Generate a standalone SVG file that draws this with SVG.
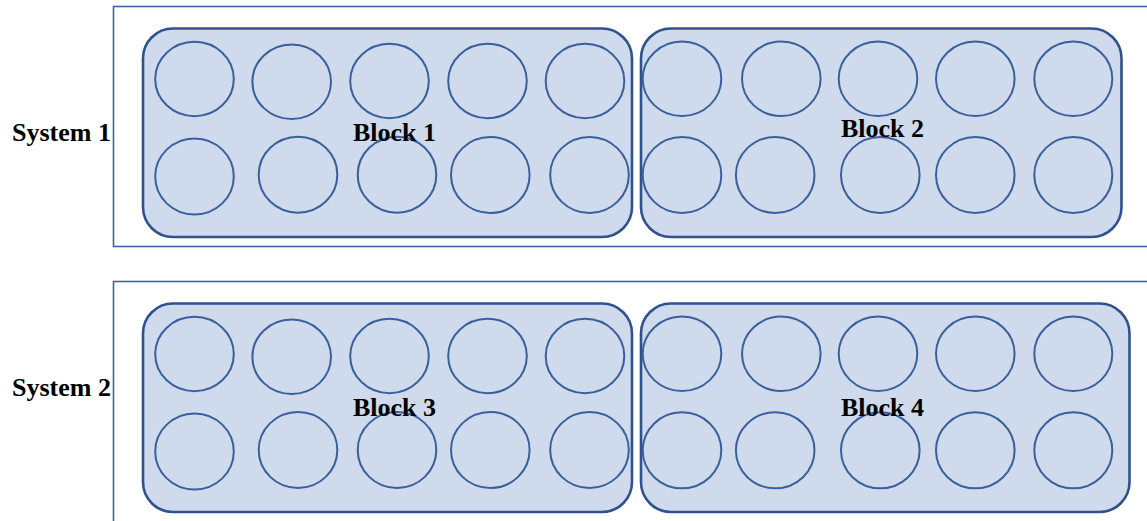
<svg xmlns="http://www.w3.org/2000/svg" width="1147" height="521" viewBox="0 0 1147 521">
<style>
.sys{fill:#ffffff;stroke:#3f62a0;stroke-width:1.6}
.blk{fill:#cfdbec;stroke:#2f528f;stroke-width:2.6}
.cell{fill:none;stroke:#3a5f9d;stroke-width:2}
.lbl{font-family:"Liberation Serif","Times New Roman",serif;font-weight:bold;font-size:26px;fill:#000}
</style>
<rect width="1147" height="521" fill="#ffffff"/>
<g id="system1">
<rect class="sys" x="113.5" y="6.5" width="1040" height="240"/>
<text class="lbl" x="12" y="141">System 1</text>
</g>
<g id="system2">
<rect class="sys" x="113.5" y="281.5" width="1040" height="250"/>
<text class="lbl" x="12" y="396">System 2</text>
</g>
<g id="block1">
<rect class="blk" x="143" y="28.5" width="489" height="208.5" rx="30"/>
<ellipse class="cell" cx="194.5" cy="79" rx="39.3" ry="37.2"/>
<ellipse class="cell" cx="291.7" cy="81.8" rx="39.3" ry="37.2"/>
<ellipse class="cell" cx="389.5" cy="81" rx="39.3" ry="37.2"/>
<ellipse class="cell" cx="487.5" cy="81" rx="39.3" ry="37.2"/>
<ellipse class="cell" cx="585" cy="81" rx="39.3" ry="37.2"/>
<ellipse class="cell" cx="194.5" cy="176.5" rx="39.3" ry="38"/>
<ellipse class="cell" cx="298" cy="174.7" rx="39.3" ry="38"/>
<ellipse class="cell" cx="397" cy="174.7" rx="39.3" ry="38"/>
<ellipse class="cell" cx="490.3" cy="175" rx="39.3" ry="38"/>
<ellipse class="cell" cx="589.5" cy="175" rx="39.3" ry="38"/>
<text class="lbl" x="353" y="141">Block 1</text>
</g>
<g id="block2">
<rect class="blk" x="641" y="28.5" width="480.5" height="208.5" rx="30"/>
<ellipse class="cell" cx="682" cy="78.8" rx="39.3" ry="37.2"/>
<ellipse class="cell" cx="781.3" cy="78.8" rx="39.3" ry="37.2"/>
<ellipse class="cell" cx="878" cy="78.8" rx="39.3" ry="37.2"/>
<ellipse class="cell" cx="975.3" cy="78.8" rx="39.3" ry="37.2"/>
<ellipse class="cell" cx="1073.3" cy="78.8" rx="39" ry="37.2"/>
<ellipse class="cell" cx="682" cy="175" rx="39.3" ry="38"/>
<ellipse class="cell" cx="775.2" cy="175" rx="39.3" ry="38"/>
<ellipse class="cell" cx="880.3" cy="175" rx="39.3" ry="38"/>
<ellipse class="cell" cx="975.3" cy="175" rx="39.3" ry="38"/>
<ellipse class="cell" cx="1073.3" cy="175" rx="39" ry="38"/>
<text class="lbl" x="841" y="137">Block 2</text>
</g>
<g id="block3">
<rect class="blk" x="143" y="303.5" width="489" height="208.5" rx="30"/>
<ellipse class="cell" cx="194.5" cy="354" rx="39.3" ry="37.2"/>
<ellipse class="cell" cx="291.7" cy="356.8" rx="39.3" ry="37.2"/>
<ellipse class="cell" cx="389.5" cy="356" rx="39.3" ry="37.2"/>
<ellipse class="cell" cx="487.5" cy="356" rx="39.3" ry="37.2"/>
<ellipse class="cell" cx="585" cy="356" rx="39.3" ry="37.2"/>
<ellipse class="cell" cx="194.5" cy="451.5" rx="39.3" ry="38"/>
<ellipse class="cell" cx="298" cy="450" rx="39.3" ry="38"/>
<ellipse class="cell" cx="397" cy="450" rx="39.3" ry="38"/>
<ellipse class="cell" cx="490.3" cy="450" rx="39.3" ry="38"/>
<ellipse class="cell" cx="589.5" cy="450" rx="39.3" ry="38"/>
<text class="lbl" x="353" y="416">Block 3</text>
</g>
<g id="block4">
<rect class="blk" x="641" y="303.5" width="488.5" height="208.5" rx="30"/>
<ellipse class="cell" cx="682" cy="353.8" rx="39.3" ry="37.2"/>
<ellipse class="cell" cx="781.3" cy="353.8" rx="39.3" ry="37.2"/>
<ellipse class="cell" cx="878" cy="353.8" rx="39.3" ry="37.2"/>
<ellipse class="cell" cx="975.3" cy="353.8" rx="39.3" ry="37.2"/>
<ellipse class="cell" cx="1073.3" cy="353.8" rx="39" ry="37.2"/>
<ellipse class="cell" cx="682" cy="450.3" rx="39.3" ry="38"/>
<ellipse class="cell" cx="775.2" cy="450.3" rx="39.3" ry="38"/>
<ellipse class="cell" cx="880.3" cy="450.3" rx="39.3" ry="38"/>
<ellipse class="cell" cx="975.3" cy="450.3" rx="39.3" ry="38"/>
<ellipse class="cell" cx="1073.3" cy="450.3" rx="39" ry="38"/>
<text class="lbl" x="841" y="416">Block 4</text>
</g>
<g id="connectors"/>
</svg>
